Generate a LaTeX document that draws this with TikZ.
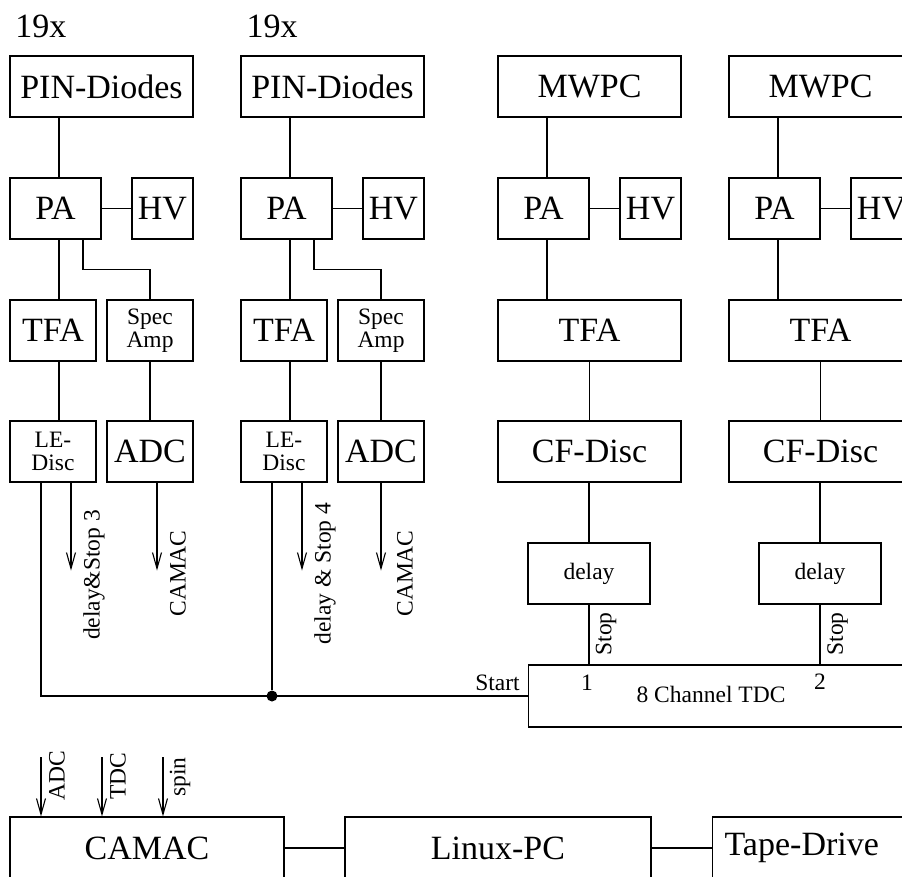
\documentclass[tikz,border=0pt]{standalone}
\usepackage{fontspec}
\setmainfont{Liberation Serif}
\usepackage{tikz}
\usetikzlibrary{arrows.meta}
\newcommand{\bigfnt}{\fontsize{34}{36}\selectfont}
\newcommand{\smlfnt}{\fontsize{23.5}{22.5}\selectfont}

\begin{document}
\begin{tikzpicture}[x=1pt,y=-1pt,line width=1.1pt,
	box/.style={draw, minimum height=61pt, inner sep=0pt, font=\bigfnt},
	sbox/.style={box, font=\smlfnt, align=center},
	txt/.style={inner sep=0pt, font=\bigfnt},
	stxt/.style={inner sep=0pt, font=\smlfnt},
	vlbl/.style={stxt, rotate=90},
	sig/.style={-{Straight Barb[length=16pt,width=9pt]}},
	dot/.style={circle, fill, inner sep=0pt, minimum size=11pt}]
	\useasboundingbox (0,0) rectangle (902,876);
	\clip (0,0) rectangle (902,876);
	
	% PIN columns
	\node[txt] (n1) at (41,26.5) {19x};
	\node[box, minimum width=183pt] (pin1) at (101.5,86.5) {PIN-Diodes};
	\node[box, minimum width=91pt] (pa1) at (55.5,208.5) {PA};
	\node[box, minimum width=61pt] (hv1) at (162.5,208.5) {HV};
	\node[box, minimum width=86pt] (tfa1) at (53,330.5) {TFA};
	\node[sbox, minimum width=86pt] (spa1) at (150,330.5) {Spec\\Amp};
	\node[sbox, minimum width=86pt] (le1) at (53,451.5) {LE-\\Disc};
	\node[box, minimum width=86pt] (adc1) at (150,451.5) {ADC};
	
	\node[txt] (n2) at (272,26.5) {19x};
	\node[box, minimum width=183pt] (pin2) at (332.5,86.5) {PIN-Diodes};
	\node[box, minimum width=91pt] (pa2) at (286.5,208.5) {PA};
	\node[box, minimum width=61pt] (hv2) at (393.5,208.5) {HV};
	\node[box, minimum width=86pt] (tfa2) at (284,330.5) {TFA};
	\node[sbox, minimum width=86pt] (spa2) at (381,330.5) {Spec\\Amp};
	\node[sbox, minimum width=86pt] (le2) at (284,451.5) {LE-\\Disc};
	\node[box, minimum width=86pt] (adc2) at (381,451.5) {ADC};
	
	% MWPC columns
	\node[box, minimum width=183pt] (mw3) at (589.5,86.5) {MWPC};
	\node[box, minimum width=91pt] (pa3) at (543.5,208.5) {PA};
	\node[box, minimum width=61pt] (hv3) at (650.5,208.5) {HV};
	\node[box, minimum width=183pt] (tfa3) at (589.5,330.5) {TFA};
	\node[box, minimum width=183pt] (cf3) at (589.5,451.5) {CF-Disc};
	\node[sbox, minimum width=122pt] (dl3) at (589,573.5) {delay};
	
	\node[box, minimum width=183pt] (mw4) at (820.5,86.5) {MWPC};
	\node[box, minimum width=91pt] (pa4) at (774.5,208.5) {PA};
	\node[box, minimum width=61pt] (hv4) at (881.5,208.5) {HV};
	\node[box, minimum width=183pt] (tfa4) at (820.5,330.5) {TFA};
	\node[box, minimum width=183pt] (cf4) at (820.5,451.5) {CF-Disc};
	\node[sbox, minimum width=122pt] (dl4) at (820,573.5) {delay};
	
	% TDC
	\node[box, minimum width=500pt, minimum height=62pt, anchor=west] (tdc) at (528,696) {};
	\node[stxt] (tdct) at (711,694) {8 Channel TDC};
	\node[stxt] (ch1) at (587,683) {1};
	\node[stxt] (ch2) at (820,682) {2};
	\node[stxt] (st) at (497.5,683) {Start};
	
	% readout
	\node[box, minimum width=274pt, minimum height=62pt] (camac) at (147,848) {CAMAC};
	\node[box, minimum width=306pt, minimum height=62pt] (linux) at (498,848) {Linux-PC};
	\node[box, minimum height=62pt, anchor=west, text width=250pt, align=left, inner xsep=12pt] (tape) at (712,848) {Tape-Drive};
	
	\coordinate (bus1) at (59,0);
	\coordinate (br1) at (83,0);
	\coordinate (out1) at (41,0);
	\coordinate (arr1) at (71,0);
	\coordinate (bus2) at (290,0);
	\coordinate (br2) at (314,0);
	\coordinate (out2) at (272,0);
	\coordinate (arr2) at (302,0);
	\coordinate (bus3) at (547,0);
	\coordinate (bus4) at (778,0);
	
	% column 1
	\draw (pin1.south -| bus1) -- (pa1.north -| bus1);
	\draw (pa1) -- (hv1);
	\draw (pa1.south -| bus1) -- (tfa1.north -| bus1);
	\draw (pa1.south -| br1) -- ++(0,29.5) -| (spa1.north);
	\draw (tfa1.south -| bus1) -- (le1.north -| bus1);
	\draw (spa1) -- (adc1);
	\draw (le1.south -| out1) |- (tdc.west);
	\draw[sig] (le1.south -| arr1) -- ++(0,88);
	\draw[sig] ([xshift=7pt]adc1.south) -- ++(0,88);
	\node[vlbl] (dst1) at (94,575) {delay\&Stop 3};
	\node[vlbl] (cmc1) at (178,573.5) {CAMAC};
	
	% column 2
	\draw (pin2.south -| bus2) -- (pa2.north -| bus2);
	\draw (pa2) -- (hv2);
	\draw (pa2.south -| bus2) -- (tfa2.north -| bus2);
	\draw (pa2.south -| br2) -- ++(0,29.5) -| (spa2.north);
	\draw (tfa2.south -| bus2) -- (le2.north -| bus2);
	\draw (spa2) -- (adc2);
	\node[dot] (jn) at (out2 |- tdc.west) {};
	\draw (le2.south -| out2) -- (jn);
	\draw[sig] (le2.south -| arr2) -- ++(0,88);
	\draw[sig] (adc2.south) -- ++(0,88);
	\node[vlbl] (dst2) at (325,573.5) {delay \& Stop 4};
	\node[vlbl] (cmc2) at (405,573.5) {CAMAC};
	
	% column 3
	\draw (mw3.south -| bus3) -- (pa3.north -| bus3);
	\draw (pa3) -- (hv3);
	\draw (pa3.south -| bus3) -- (tfa3.north -| bus3);
	\draw (tfa3) -- (cf3);
	\draw (cf3.south -| dl3) -- (dl3);
	\draw (dl3.south) -- (dl3.south |- tdc.north);
	\node[vlbl] (stp3) at (606,634) {Stop};
	
	% column 4
	\draw (mw4.south -| bus4) -- (pa4.north -| bus4);
	\draw (pa4) -- (hv4);
	\draw (pa4.south -| bus4) -- (tfa4.north -| bus4);
	\draw (tfa4) -- (cf4);
	\draw (cf4.south -| dl4) -- (dl4);
	\draw (dl4.south) -- (dl4.south |- tdc.north);
	\node[vlbl] (stp4) at (837.5,634) {Stop};
	
	% inputs and readout chain
	\coordinate (in1) at (41,757);
	\coordinate (in2) at (102,757);
	\coordinate (in3) at (163,757);
	\draw[sig] (in1) -- (in1 |- camac.north);
	\draw[sig] (in2) -- (in2 |- camac.north);
	\draw[sig] (in3) -- (in3 |- camac.north);
	\node[vlbl] (lab1) at (57,776) {ADC};
	\node[vlbl] (lab2) at (118,776) {TDC};
	\node[vlbl] (lab3) at (180,777) {spin};
	\draw (camac) -- (linux);
	\draw (linux) -- (tape);
\end{tikzpicture}
\end{document}
